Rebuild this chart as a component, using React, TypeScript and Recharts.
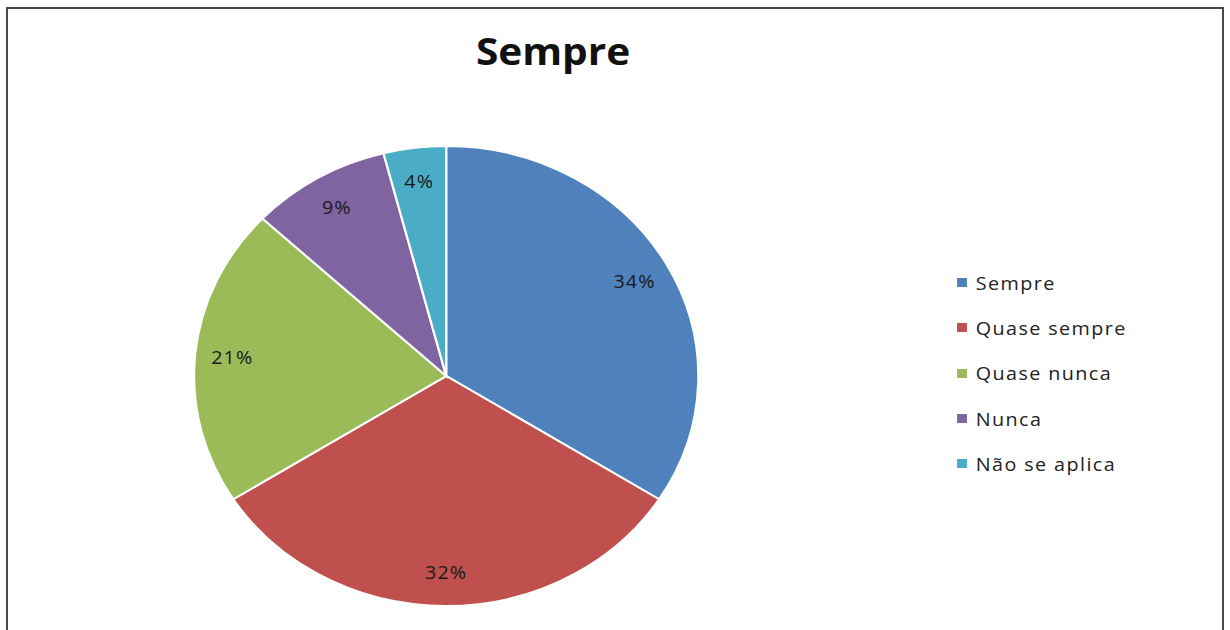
import React from "react";
import { PieChart, Pie, Cell, Legend } from "recharts";

const categories = ["Sempre", "Quase sempre", "Quase nunca", "Nunca", "Não se aplica"];
const values = [34, 32, 21, 9, 4];
const colors = ["#4F81BD", "#C0504D", "#9BBB59", "#8064A2", "#4BACC6"];
const title = "Sempre";

const data = categories.map((name, i) => ({ name, value: values[i] }));

const SX = 1.0963;
const CW = 1122;
const CH = 630;
const RAD = Math.PI / 180;

const renderLabel = (props: any) => {
  const { cx, cy, midAngle, outerRadius, percent } = props;
  const r = outerRadius - 34;
  const x = cx + r * Math.cos(-midAngle * RAD);
  const y = cy + r * Math.sin(-midAngle * RAD);
  return (
    <text
      x={x}
      y={y}
      textAnchor="middle"
      dominantBaseline="central"
      fill="#1a1a1a"
      fontSize={18}
      letterSpacing={1}
      fontFamily="'Open Sans', sans-serif"
    >
      {`${Math.round(percent * 100)}%`}
    </text>
  );
};

const renderLegend = () => {
  return (
    <div style={{ fontFamily: "'Open Sans', sans-serif", fontSize: 18, color: "#222", letterSpacing: 1.3 }}>
      {categories.map((name, i) => (
        <div key={name} style={{ display: "flex", alignItems: "center", height: 45.3 }}>
          <span
            style={{
              display: "inline-block",
              width: 9,
              height: 9,
              background: colors[i],
              marginRight: 8,
            }}
          />
          <span>{name}</span>
        </div>
      ))}
    </div>
  );
};

export default function App() {
  return (
    <div
      style={{
        position: "absolute",
        left: 0,
        top: 0,
        width: 1230,
        height: 630,
        overflow: "hidden",
        background: "#fff",
      }}
    >
      <div
        style={{
          position: "absolute",
          left: 6,
          top: 7,
          width: 1218,
          height: 660,
          border: "2px solid #4a4a4a",
          boxSizing: "border-box",
        }}
      />
      <div
        style={{
          position: "absolute",
          left: 0,
          top: 0,
          width: CW,
          height: CH,
          transform: `scaleX(${SX})`,
          transformOrigin: "0 0",
        }}
      >
        <div
          style={{
            position: "absolute",
            left: 0,
            top: 27,
            width: 1009,
            textAlign: "center",
            fontFamily: "'Open Sans', sans-serif",
            fontWeight: 700,
            fontSize: 37,
            color: "#111",
            lineHeight: "48px",
          }}
        >
          {title}
        </div>
        <PieChart width={CW} height={CH} margin={{ top: 0, right: 0, bottom: 0, left: 0 }}>
          <Pie
            data={data}
            dataKey="value"
            nameKey="name"
            cx={407}
            cy={376}
            outerRadius={230}
            startAngle={90}
            endAngle={-270}
            stroke="#ffffff"
            strokeWidth={2}
            label={renderLabel}
            labelLine={false}
            isAnimationActive={false}
          >
            {data.map((d, i) => (
              <Cell key={d.name} fill={colors[i]} />
            ))}
          </Pie>
          <Legend
            layout="vertical"
            content={renderLegend}
            wrapperStyle={{ position: "absolute", left: 873, top: 260, width: 220 }}
          />
        </PieChart>
      </div>
    </div>
  );
}
